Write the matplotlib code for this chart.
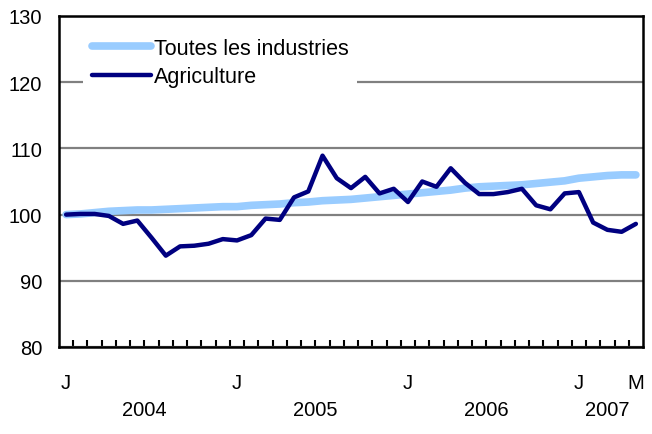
import matplotlib
matplotlib.use("Agg")
import matplotlib.pyplot as plt
from matplotlib.transforms import blended_transform_factory

plt.rcParams["font.family"] = ["Liberation Sans", "DejaVu Sans"]

# monthly index, Jan 2004 .. May 2007
months = list(range(41))
toutes = [100.0, 100.1, 100.3, 100.5, 100.6, 100.7, 100.7, 100.8, 100.9, 101.0,
          101.1, 101.2, 101.2, 101.4, 101.5, 101.6, 101.8, 101.9, 102.1, 102.2,
          102.3, 102.5, 102.7, 102.9, 103.1, 103.3, 103.5, 103.7, 104.0, 104.2,
          104.3, 104.4, 104.5, 104.7, 104.9, 105.1, 105.5, 105.7, 105.9, 106.0,
          106.0]
agriculture = [100.0, 100.1, 100.1, 99.8, 98.6, 99.1, 96.5, 93.8, 95.2, 95.3,
               95.6, 96.3, 96.1, 96.9, 99.4, 99.2, 102.6, 103.5, 108.9, 105.5,
               104.0, 105.7, 103.2, 103.9, 101.9, 105.0, 104.2, 107.0, 104.8, 103.1,
               103.1, 103.4, 103.9, 101.4, 100.8, 103.2, 103.4, 98.8, 97.7, 97.4,
               98.6]
month_label_pos = [0, 12, 24, 36, 40]
month_labels = ["J", "J", "J", "J", "M"]
years = ["2004", "2005", "2006", "2007"]
year_pos = [5.5, 17.5, 29.5, 38.0]
y_ticks = [80, 90, 100, 110, 120, 130]

fig = plt.figure(figsize=(6.52, 4.35), dpi=100)
ax = fig.add_axes([59 / 652, 87 / 435, 584 / 652, 331 / 435])

ax.plot(months, toutes, color="#99ccff", linewidth=5.5, solid_capstyle="round",
        solid_joinstyle="round", label="Toutes les industries", zorder=3)
ax.plot(months, agriculture, color="#000080", linewidth=3.2, solid_capstyle="round",
        solid_joinstyle="round", label="Agriculture", zorder=4)

ax.set_xlim(-0.5, 40.5)
ax.set_ylim(80, 130)
ax.set_yticks(y_ticks)
ax.yaxis.grid(True, color="#808080", linewidth=1.6)
ax.set_axisbelow(True)
ax.tick_params(axis="y", length=0, pad=12, labelsize=14.5)

ax.set_xticks(month_label_pos)
ax.set_xticklabels(month_labels)
ax.set_xticks([m + 0.5 for m in months[:-1]], minor=True)
ax.tick_params(axis="x", which="major", length=0, pad=19, labelsize=14.5)
ax.tick_params(axis="x", which="minor", direction="in", length=5, width=1.5)

for side in ["left", "right", "top", "bottom"]:
    ax.spines[side].set_linewidth(1.8)
    ax.spines[side].set_color("black")

trans = blended_transform_factory(ax.transData, ax.transAxes)
for yr, pos in zip(years, year_pos):
    ax.text(pos, -0.19, yr, transform=trans, ha="center", va="center", fontsize=14.5)

leg = ax.legend(loc="upper left", bbox_to_anchor=(0.041, 0.96), fontsize=15.5,
                handlelength=2.75, handletextpad=0.14, labelspacing=0.35,
                frameon=True, fancybox=False, borderaxespad=0, borderpad=0.4)
leg.get_frame().set_facecolor("white")
leg.get_frame().set_edgecolor("none")
leg.get_frame().set_alpha(1)

fig.savefig("out.png", dpi=100)
